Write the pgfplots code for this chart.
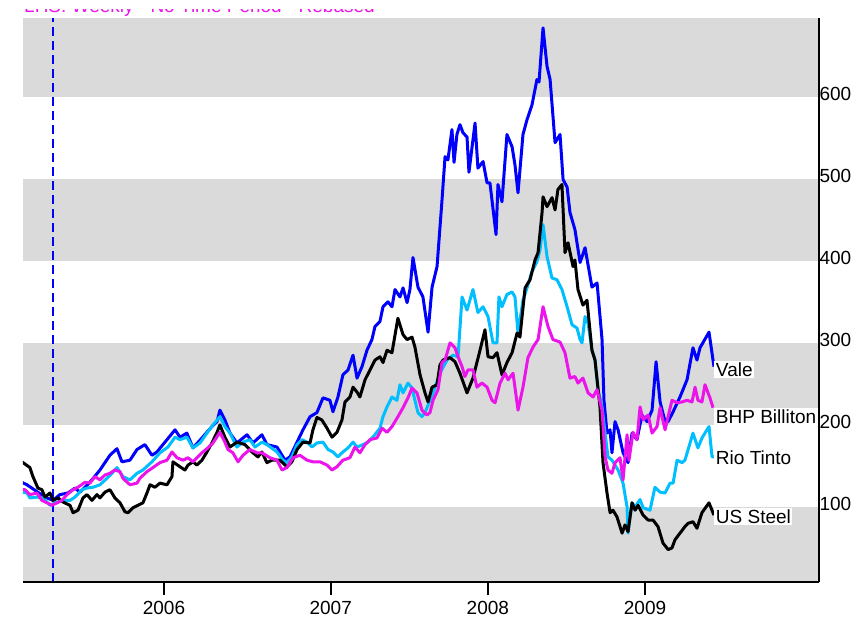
\documentclass[border=0pt]{standalone}
\usepackage{pgfplots}
\pgfplotsset{compat=1.18}
\usepackage{fontspec}
\setmainfont{Liberation Sans}

\definecolor{bandgray}{RGB}{218,218,218}
\definecolor{valeblue}{RGB}{0,0,255}
\definecolor{riocyan}{RGB}{0,191,255}
\definecolor{bhpmag}{RGB}{235,20,235}

% weekly indices, x in decimal years
\pgfplotstableread{
x y
2005.114 130
2005.146 127
2005.258 112
2005.308 108
2005.351 115
2005.401 117
2005.445 123
2005.476 118
2005.538 130
2005.601 145
2005.663 163
2005.707 171
2005.738 155
2005.788 157
2005.832 170
2005.881 176
2005.925 163
2005.956 167
2006.019 182
2006.069 194
2006.100 185
2006.143 190
2006.181 172
2006.237 184
2006.299 198
2006.331 204
2006.349 218
2006.380 206
2006.412 190
2006.455 178
2006.518 188
2006.555 178
2006.611 188
2006.642 176
2006.705 173
2006.755 157
2006.786 161
2006.830 179
2006.867 194
2006.911 210
2006.954 215
2006.992 233
2007.035 230
2007.054 216
2007.085 234
2007.116 261
2007.148 267
2007.179 285
2007.204 257
2007.235 271
2007.266 291
2007.297 304
2007.316 320
2007.347 326
2007.366 344
2007.397 350
2007.422 344
2007.441 365
2007.472 356
2007.491 367
2007.516 349
2007.534 365
2007.553 404
2007.584 368
2007.615 356
2007.647 313
2007.672 368
2007.703 393
2007.734 474
2007.753 527
2007.771 523
2007.796 560
2007.809 520
2007.827 554
2007.846 566
2007.865 556
2007.890 551
2007.902 508
2007.940 568
2007.958 513
2007.990 521
2008.015 495
2008.033 495
2008.071 432
2008.083 493
2008.108 472
2008.139 554
2008.171 539
2008.189 517
2008.208 483
2008.239 554
2008.264 572
2008.295 590
2008.326 621
2008.339 618
2008.364 684
2008.389 637
2008.408 621
2008.439 544
2008.470 554
2008.489 499
2008.514 490
2008.532 459
2008.563 438
2008.595 398
2008.626 416
2008.669 368
2008.701 373
2008.732 304
2008.744 230
2008.763 190
2008.782 194
2008.794 166
2008.813 204
2008.832 194
2008.863 166
2008.894 154
2008.919 190
2008.950 182
2008.981 212
2009.013 204
2009.044 218
2009.069 277
2009.094 228
2009.125 204
2009.144 204
2009.175 216
2009.218 234
2009.262 255
2009.299 294
2009.324 279
2009.343 294
2009.399 313
2009.430 271
}\vale

\pgfplotstableread{
x y
2005.114 155
2005.164 148
2005.183 137
2005.214 123
2005.239 121
2005.258 112
2005.289 117
2005.308 108
2005.339 111
2005.370 106
2005.414 102
2005.433 93
2005.464 96
2005.495 111
2005.520 115
2005.551 108
2005.582 115
2005.601 111
2005.632 118
2005.663 121
2005.694 111
2005.726 105
2005.757 94
2005.776 93
2005.807 99
2005.838 102
2005.869 105
2005.894 117
2005.913 127
2005.944 124
2005.975 129
2006.019 127
2006.050 137
2006.056 155
2006.100 149
2006.131 145
2006.150 151
2006.181 155
2006.206 151
2006.237 157
2006.268 167
2006.299 178
2006.331 191
2006.349 200
2006.380 185
2006.412 173
2006.455 179
2006.505 176
2006.549 167
2006.586 161
2006.611 167
2006.642 154
2006.674 157
2006.723 157
2006.767 149
2006.798 155
2006.830 170
2006.867 179
2006.911 178
2006.929 194
2006.954 209
2006.985 206
2007.017 196
2007.048 185
2007.079 191
2007.110 206
2007.129 228
2007.160 234
2007.179 246
2007.204 240
2007.222 234
2007.254 255
2007.285 267
2007.316 279
2007.347 283
2007.366 276
2007.391 291
2007.422 288
2007.459 330
2007.491 310
2007.516 304
2007.547 307
2007.565 295
2007.597 261
2007.628 239
2007.647 228
2007.672 246
2007.703 249
2007.721 273
2007.740 279
2007.784 282
2007.815 277
2007.846 263
2007.890 239
2007.927 257
2007.971 291
2008.002 316
2008.021 283
2008.052 282
2008.077 288
2008.108 261
2008.139 276
2008.171 288
2008.202 312
2008.220 307
2008.252 367
2008.283 377
2008.314 401
2008.333 410
2008.358 459
2008.364 478
2008.389 466
2008.420 477
2008.439 462
2008.457 487
2008.482 493
2008.501 410
2008.520 422
2008.551 393
2008.563 401
2008.582 365
2008.613 346
2008.638 352
2008.669 291
2008.688 279
2008.719 222
2008.738 154
2008.763 117
2008.782 93
2008.800 96
2008.825 88
2008.857 68
2008.875 78
2008.894 70
2008.919 105
2008.938 96
2008.957 102
2008.988 90
2009.019 84
2009.050 84
2009.081 76
2009.112 56
2009.144 48
2009.168 50
2009.187 60
2009.218 68
2009.249 76
2009.268 80
2009.299 82
2009.324 74
2009.355 93
2009.399 105
2009.430 90
}\ussteel

\pgfplotstableread{
x y
2005.114 118
2005.146 117
2005.164 111
2005.208 112
2005.245 111
2005.289 102
2005.320 105
2005.370 108
2005.414 108
2005.445 112
2005.489 121
2005.520 123
2005.557 124
2005.601 127
2005.645 135
2005.676 141
2005.707 148
2005.744 137
2005.788 133
2005.832 141
2005.869 145
2005.925 155
2005.975 166
2006.025 173
2006.069 185
2006.100 182
2006.143 185
2006.181 172
2006.225 178
2006.268 190
2006.306 200
2006.349 210
2006.380 198
2006.412 190
2006.455 173
2006.493 179
2006.536 182
2006.568 173
2006.611 179
2006.642 176
2006.705 167
2006.742 157
2006.767 154
2006.798 161
2006.830 176
2006.861 182
2006.892 179
2006.923 173
2006.954 178
2006.992 179
2007.023 170
2007.054 167
2007.085 161
2007.116 167
2007.148 172
2007.179 179
2007.204 173
2007.241 176
2007.272 179
2007.303 185
2007.347 196
2007.366 210
2007.391 222
2007.422 234
2007.453 230
2007.472 249
2007.491 239
2007.522 251
2007.547 245
2007.565 230
2007.584 215
2007.609 210
2007.628 215
2007.678 239
2007.721 263
2007.765 279
2007.803 285
2007.834 283
2007.859 356
2007.890 340
2007.927 365
2007.958 337
2007.990 344
2008.021 332
2008.052 300
2008.077 300
2008.089 356
2008.108 344
2008.139 359
2008.171 362
2008.189 356
2008.208 312
2008.239 352
2008.264 367
2008.295 387
2008.326 399
2008.345 413
2008.364 444
2008.389 405
2008.420 379
2008.451 377
2008.482 365
2008.514 344
2008.545 322
2008.576 318
2008.595 304
2008.607 300
2008.626 332
2008.645 324
2008.669 291
2008.688 280
2008.707 243
2008.732 222
2008.751 190
2008.769 161
2008.794 157
2008.832 145
2008.863 129
2008.888 100
2008.894 68
2008.919 105
2008.938 100
2008.969 109
2008.988 99
2009.031 96
2009.062 124
2009.094 118
2009.125 117
2009.156 129
2009.175 129
2009.200 157
2009.231 154
2009.249 157
2009.281 178
2009.299 190
2009.330 172
2009.355 184
2009.399 198
2009.418 161
2009.430 161
}\rio

\pgfplotstableread{
x y
2005.114 121
2005.133 121
2005.164 115
2005.208 117
2005.239 108
2005.271 105
2005.302 102
2005.333 105
2005.364 108
2005.395 115
2005.433 121
2005.464 124
2005.507 130
2005.538 129
2005.570 137
2005.601 133
2005.632 139
2005.663 141
2005.694 145
2005.726 143
2005.744 135
2005.788 127
2005.832 129
2005.850 135
2005.894 143
2005.931 148
2005.975 154
2006.019 157
2006.050 167
2006.081 160
2006.119 157
2006.150 160
2006.181 155
2006.237 166
2006.274 172
2006.306 178
2006.349 191
2006.380 179
2006.399 170
2006.430 166
2006.462 155
2006.493 163
2006.536 170
2006.580 166
2006.611 166
2006.661 160
2006.705 157
2006.736 145
2006.767 148
2006.805 160
2006.848 163
2006.892 157
2006.929 155
2006.973 155
2007.017 151
2007.048 145
2007.079 149
2007.116 157
2007.160 160
2007.191 173
2007.222 166
2007.254 176
2007.285 182
2007.328 184
2007.360 196
2007.391 191
2007.422 198
2007.459 210
2007.491 221
2007.522 233
2007.547 245
2007.578 239
2007.609 218
2007.640 212
2007.659 215
2007.678 230
2007.709 243
2007.734 276
2007.753 279
2007.784 300
2007.815 294
2007.834 283
2007.859 271
2007.877 259
2007.896 267
2007.927 267
2007.952 246
2007.983 251
2008.015 246
2008.046 230
2008.065 227
2008.096 251
2008.127 263
2008.146 255
2008.177 263
2008.208 218
2008.239 246
2008.270 282
2008.302 295
2008.333 304
2008.364 344
2008.395 320
2008.426 304
2008.470 301
2008.501 288
2008.532 257
2008.563 259
2008.582 251
2008.613 257
2008.645 239
2008.676 234
2008.701 243
2008.732 218
2008.751 161
2008.769 145
2008.794 141
2008.813 154
2008.844 160
2008.863 133
2008.888 188
2008.900 157
2008.925 191
2008.950 182
2008.969 222
2008.988 206
2009.019 212
2009.044 190
2009.075 198
2009.094 221
2009.125 194
2009.144 210
2009.168 230
2009.200 227
2009.231 228
2009.262 230
2009.293 228
2009.312 246
2009.330 230
2009.355 228
2009.374 249
2009.405 233
2009.424 221
}\bhp

\pgfplotsset{
  common/.style={
    at={(0pt,0pt)}, anchor=south west,
    scale only axis,
    width=796pt, height=564pt,
    xmin=2005.121, xmax=2010.085,
    ymin=8.5, ymax=696,
    tick label style={font=\fontsize{19}{22}\selectfont},
    /pgf/number format/assume math mode=true,
    /pgf/number format/1000 sep=,
  },
}

\begin{document}
\begin{tikzpicture}
% title, cut off at the top as in the original
\begin{scope}
\clip (0pt,572.5pt) rectangle (840pt,564pt);
\node[anchor=base west, text=bhpmag, inner sep=0pt, font=\fontsize{19}{22}\selectfont]
  at (1pt,569.5pt) {LHS: Weekly - No Time Period - Rebased};
\end{scope}
% main axis: bands and series
\begin{axis}[
  common,
  axis lines=none,
  every axis plot/.append style={line width=3pt, line join=round},
]
\fill[bandgray] (axis cs:2005.121,8.5) rectangle (axis cs:2010.085,100);
\fill[bandgray] (axis cs:2005.121,200) rectangle (axis cs:2010.085,300);
\fill[bandgray] (axis cs:2005.121,400) rectangle (axis cs:2010.085,500);
\fill[bandgray] (axis cs:2005.121,600) rectangle (axis cs:2010.085,696);
\draw[valeblue, line width=1.8pt, dash pattern=on 9pt off 5pt]
  (axis cs:2005.308,8.5) -- (axis cs:2005.308,696);

\addplot[valeblue] table[x=x,y=y] {\vale};
\addplot[riocyan] table[x=x,y=y] {\rio};
\addplot[black] table[x=x,y=y] {\ussteel};
\addplot[bhpmag] table[x=x,y=y] {\bhp};
\end{axis}
% frame: year ticks below
\begin{axis}[
  common,
  axis x line*=bottom,
  axis y line=none,
  axis line style={line width=2.2pt},
  xtick={2006,2007.04,2008.02,2009},
  xticklabels={2006,2007,2008,2009},
  ytick=\empty,
  tick align=outside,
  major tick length=13pt,
  xtick style={black, line width=2pt},
  xticklabel style={yshift=-3pt},
  clip=false,
]
\draw[black, line width=2.2pt] (axis cs:2005.121,8.5) -- (axis cs:2010.085,8.5);
\draw[black, line width=2pt] (axis cs:2006,8.5) -- ([yshift=-13pt]axis cs:2006,8.5);
\draw[black, line width=2pt] (axis cs:2007.04,8.5) -- ([yshift=-13pt]axis cs:2007.04,8.5);
\draw[black, line width=2pt] (axis cs:2008.02,8.5) -- ([yshift=-13pt]axis cs:2008.02,8.5);
\draw[black, line width=2pt] (axis cs:2009,8.5) -- ([yshift=-13pt]axis cs:2009,8.5);
\node[anchor=west, fill=white, inner sep=1.5pt, font=\fontsize{19}{22}\selectfont]
  at (axis cs:2009.432,267) {Vale};
\node[anchor=west, fill=white, inner sep=1.5pt, font=\fontsize{19}{22}\selectfont]
  at (axis cs:2009.432,210) {BHP Billiton};
\node[anchor=west, fill=white, inner sep=1.5pt, font=\fontsize{19}{22}\selectfont]
  at (axis cs:2009.432,160) {Rio Tinto};
\node[anchor=west, fill=white, inner sep=1.5pt, font=\fontsize{19}{22}\selectfont]
  at (axis cs:2009.432,88) {US Steel};
\end{axis}
% right value axis, labels without tick marks
\begin{axis}[
  common,
  axis x line=none,
  axis y line*=right,
  axis line style={line width=2.2pt},
  ytick={100,200,300,400,500,600},
  major tick length=0pt,
  yticklabel style={anchor=west, xshift=-3pt, yshift=3pt},
]
\end{axis}
\pgfresetboundingbox
\useasboundingbox (-23pt,-40pt) rectangle (840pt,582pt);
\end{tikzpicture}
\end{document}
